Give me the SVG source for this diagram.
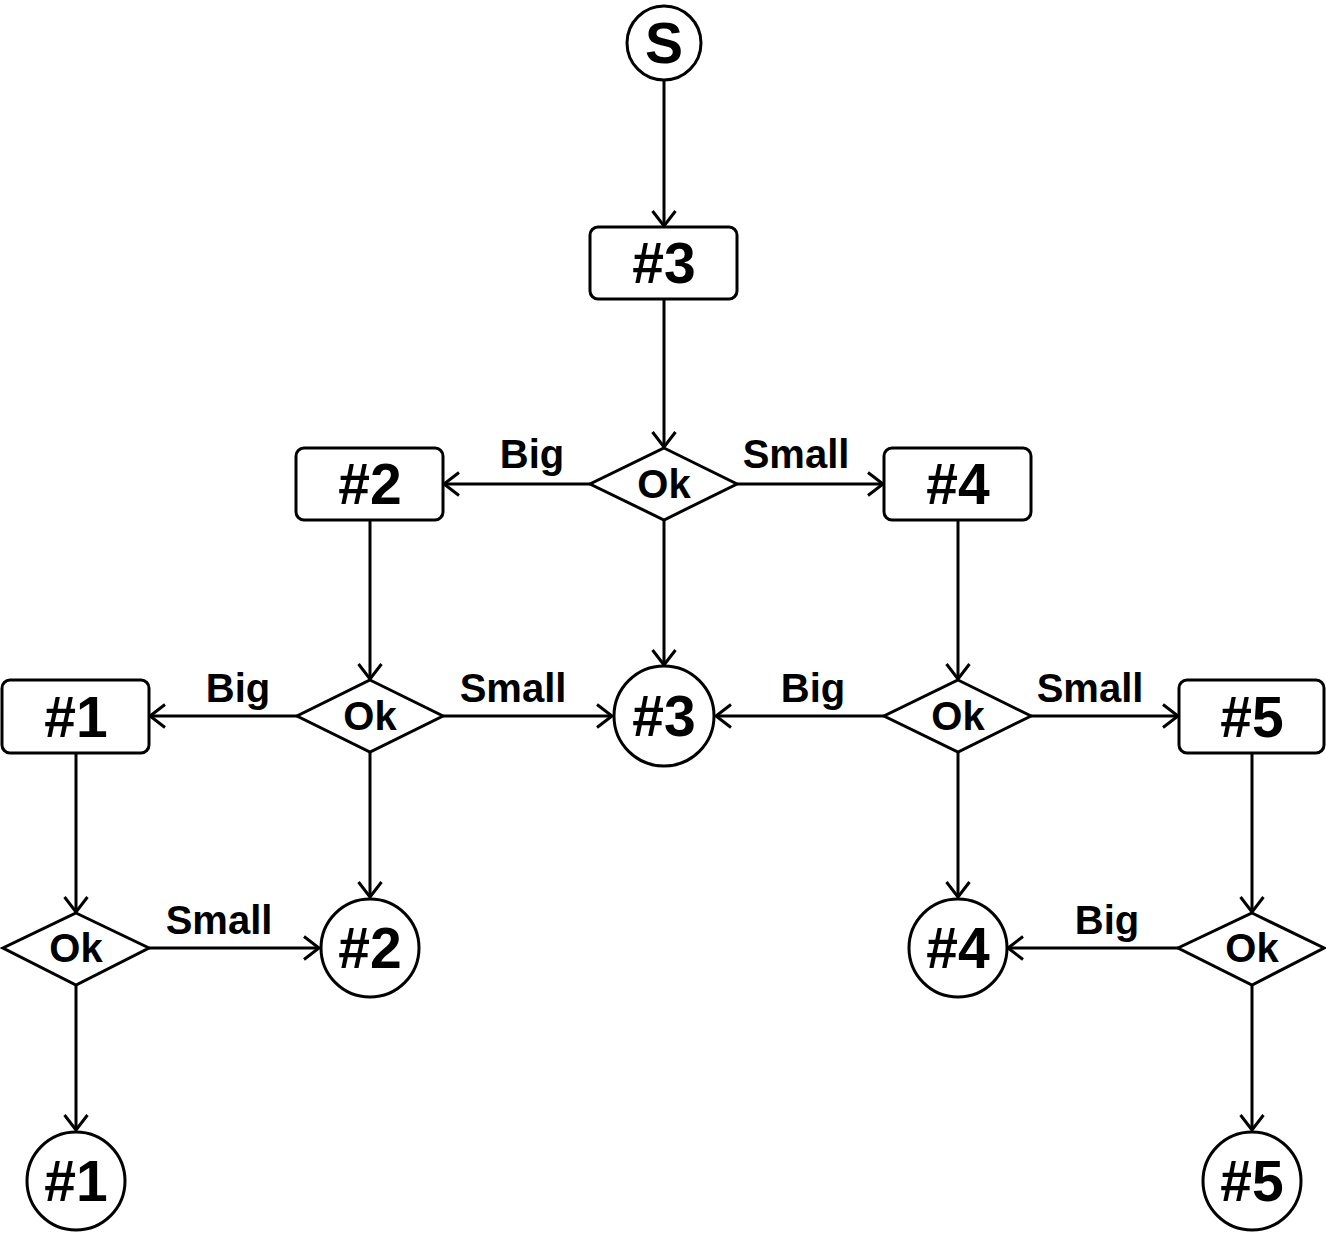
<svg xmlns="http://www.w3.org/2000/svg" width="1326" height="1234" viewBox="0 0 1326 1234">
  <style>
    .shape { fill: #fff; stroke: #000; stroke-width: 3; }
    .big { font-family: "Liberation Sans", Arial, sans-serif; font-weight: bold; font-size: 57px; text-anchor: middle; fill: #000; }
    .ok { font-family: "Liberation Sans", Arial, sans-serif; font-weight: bold; font-size: 40px; text-anchor: middle; fill: #000; }
    .lbl { font-family: "Liberation Sans", Arial, sans-serif; font-weight: bold; font-size: 40px; text-anchor: middle; fill: #000; }
    .edge { fill: none; stroke: #000; stroke-width: 3; marker-end: url(#arrow); }
  </style>
  <defs>
    <marker id="arrow" markerUnits="userSpaceOnUse" viewBox="0 0 20 28" markerWidth="20" markerHeight="28" refX="17" refY="14" orient="auto">
      <path d="M2 2.5 L17 14 L2 25.5" fill="none" stroke="#000" stroke-width="3"/>
    </marker>
  </defs>

  <rect width="1326" height="1234" fill="#fff"/>

  <!-- connectors -->
  <g id="connectors">
    <line class="edge" x1="664" y1="80" x2="664" y2="226"/>
    <line class="edge" x1="664" y1="299" x2="664" y2="447"/>
    <line class="edge" x1="590" y1="484" x2="444" y2="484"/>
    <line class="edge" x1="737" y1="484" x2="883" y2="484"/>
    <line class="edge" x1="664" y1="520" x2="664" y2="665"/>
    <line class="edge" x1="370" y1="520" x2="370" y2="679"/>
    <line class="edge" x1="297" y1="716" x2="150" y2="716"/>
    <line class="edge" x1="443" y1="716" x2="612" y2="716"/>
    <line class="edge" x1="370" y1="752" x2="370" y2="897"/>
    <line class="edge" x1="958" y1="520" x2="958" y2="679"/>
    <line class="edge" x1="884" y1="716" x2="716" y2="716"/>
    <line class="edge" x1="1031" y1="716" x2="1178" y2="716"/>
    <line class="edge" x1="958" y1="752" x2="958" y2="897"/>
    <line class="edge" x1="76" y1="753" x2="76" y2="912"/>
    <line class="edge" x1="149" y1="948" x2="319" y2="948"/>
    <line class="edge" x1="76" y1="985" x2="76" y2="1130"/>
    <line class="edge" x1="1252" y1="753" x2="1252" y2="912"/>
    <line class="edge" x1="1178" y1="948" x2="1008" y2="948"/>
    <line class="edge" x1="1252" y1="985" x2="1252" y2="1130"/>

    <text class="lbl" x="532" y="468">Big</text>
    <text class="lbl" x="796" y="468">Small</text>
    <text class="lbl" x="238" y="702">Big</text>
    <text class="lbl" x="513" y="702">Small</text>
    <text class="lbl" x="813" y="702">Big</text>
    <text class="lbl" x="1090" y="702">Small</text>
    <text class="lbl" x="219" y="934">Small</text>
    <text class="lbl" x="1107" y="934">Big</text>
  </g>

  <!-- start -->
  <g id="start">
    <circle class="shape" cx="664" cy="43" r="37"/>
    <text class="big" x="664" y="63">S</text>
  </g>

  <!-- process boxes -->
  <g id="box3">
    <rect class="shape" x="590" y="227" width="147" height="72" rx="8"/>
    <text class="big" x="664" y="283">#3</text>
  </g>
  <g id="box2">
    <rect class="shape" x="296" y="448" width="147" height="72" rx="8"/>
    <text class="big" x="370" y="504">#2</text>
  </g>
  <g id="box4">
    <rect class="shape" x="884" y="448" width="147" height="72" rx="8"/>
    <text class="big" x="958" y="504">#4</text>
  </g>
  <g id="box1">
    <rect class="shape" x="2" y="680" width="147" height="73" rx="8"/>
    <text class="big" x="76" y="737">#1</text>
  </g>
  <g id="box5">
    <rect class="shape" x="1179" y="680" width="145" height="73" rx="8"/>
    <text class="big" x="1252" y="737">#5</text>
  </g>

  <!-- decisions -->
  <g id="ok3">
    <polygon class="shape" points="664,448 737,484 664,520 590,484"/>
    <text class="ok" x="664" y="498">Ok</text>
  </g>
  <g id="ok2">
    <polygon class="shape" points="370,680 443,716 370,752 297,716"/>
    <text class="ok" x="370" y="730">Ok</text>
  </g>
  <g id="ok4">
    <polygon class="shape" points="958,680 1031,716 958,752 884,716"/>
    <text class="ok" x="958" y="730">Ok</text>
  </g>
  <g id="ok1">
    <polygon class="shape" points="76,913 149,948 76,985 3,948"/>
    <text class="ok" x="76" y="962">Ok</text>
  </g>
  <g id="ok5">
    <polygon class="shape" points="1252,913 1324,948 1252,985 1178,948"/>
    <text class="ok" x="1252" y="962">Ok</text>
  </g>

  <!-- terminals -->
  <g id="end3">
    <circle class="shape" cx="664" cy="716" r="50"/>
    <text class="big" x="664" y="736">#3</text>
  </g>
  <g id="end2">
    <circle class="shape" cx="370" cy="948" r="49"/>
    <text class="big" x="370" y="968">#2</text>
  </g>
  <g id="end4">
    <circle class="shape" cx="958" cy="948" r="49"/>
    <text class="big" x="958" y="968">#4</text>
  </g>
  <g id="end1">
    <circle class="shape" cx="76" cy="1181" r="49"/>
    <text class="big" x="76" y="1201">#1</text>
  </g>
  <g id="end5">
    <circle class="shape" cx="1252" cy="1181" r="49"/>
    <text class="big" x="1252" y="1201">#5</text>
  </g>
</svg>
